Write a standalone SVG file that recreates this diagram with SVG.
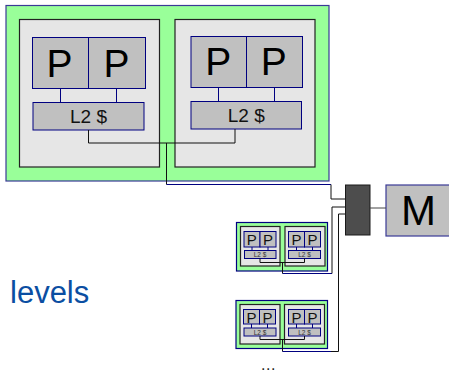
<svg xmlns="http://www.w3.org/2000/svg" width="449" height="374" viewBox="0 0 449 374">
<style>
.outer{fill:#99ff99;stroke:#3a3a96;stroke-width:1.2}
.core{fill:#e6e6e6;stroke:#222;stroke-width:1.2}
.box{fill:#c0c0c0;stroke:#000080;stroke-width:1}
.w{fill:none;stroke:#000080;stroke-width:1}
.k{fill:none;stroke:#111;stroke-width:1}
text{font-family:"Liberation Sans",Arial,sans-serif;fill:#000;text-anchor:middle}
.p{font-size:39px}.l{font-size:19px;fill:#111}.sp{font-size:15px;fill:#111}.sl{font-size:6.5px;fill:#333}
</style>
<g id="cluster-large">
<rect class="outer" x="6" y="5.500" width="323" height="175.500"/>
<rect class="core" x="19.500" y="19.500" width="140" height="147.500"/>
<rect class="core" x="175" y="19.500" width="140" height="147.500"/>
</g>
<g id="node-p1"><rect class="box" x="32.500" y="37.500" width="56" height="51"/><text class="p" x="59.500" y="76.500">P</text></g>
<g id="node-p2"><rect class="box" x="88.500" y="37.500" width="57" height="51"/><text class="p" x="116.500" y="76.500">P</text></g>
<g id="node-l2a"><rect class="box" x="33" y="102.500" width="111" height="27.500"/><text class="l" x="88.500" y="123">L2 $</text></g>
<g id="node-p3"><rect class="box" x="191" y="36.500" width="55.500" height="51"/><text class="p" x="218.200" y="75">P</text></g>
<g id="node-p4"><rect class="box" x="246.500" y="36.500" width="56" height="51"/><text class="p" x="273.800" y="75">P</text></g>
<g id="node-l2b"><rect class="box" x="191" y="101.500" width="110.500" height="27.500"/><text class="l" x="246.300" y="122">L2 $</text></g>

<g id="cluster-small-1">
<rect class="outer" x="236.500" y="222.500" width="91" height="48.500" style="stroke:#000080"/>
<rect class="core" x="240.500" y="226.500" width="39.500" height="39.500"/>
<rect class="core" x="285" y="226.500" width="40" height="39.500"/>
</g>
<g id="node-s1p1"><rect class="box" x="244" y="231.500" width="16" height="15.500"/><text class="sp" x="251.800" y="244.500">P</text></g>
<g id="node-s1p2"><rect class="box" x="260" y="231.500" width="16" height="15.500"/><text class="sp" x="268" y="244.500">P</text></g>
<g id="node-s1l1"><rect class="box" x="244.500" y="250.500" width="31.500" height="8"/><text class="sl" x="260" y="257">L2 $</text></g>
<g id="node-s1p3"><rect class="box" x="288.500" y="231.500" width="16" height="15.500"/><text class="sp" x="296.500" y="244.500">P</text></g>
<g id="node-s1p4"><rect class="box" x="304.500" y="231.500" width="16" height="15.500"/><text class="sp" x="312.500" y="244.500">P</text></g>
<g id="node-s1l2"><rect class="box" x="288.500" y="250.500" width="32" height="8"/><text class="sl" x="304.500" y="257">L2 $</text></g>

<g id="cluster-small-2">
<rect class="outer" x="236" y="300.500" width="91.500" height="48" style="stroke:#000080"/>
<rect class="core" x="240" y="304.500" width="40" height="39.500"/>
<rect class="core" x="284.500" y="304.500" width="40" height="39.500"/>
</g>
<g id="node-s2p1"><rect class="box" x="243.500" y="309.500" width="16" height="14.500"/><text class="sp" x="251.500" y="322.500">P</text></g>
<g id="node-s2p2"><rect class="box" x="259.500" y="309.500" width="16" height="14.500"/><text class="sp" x="267.500" y="322.500">P</text></g>
<g id="node-s2l1"><rect class="box" x="244" y="328" width="32" height="8"/><text class="sl" x="260" y="334.500">L2 $</text></g>
<g id="node-s2p3"><rect class="box" x="288.500" y="309.500" width="16" height="14.500"/><text class="sp" x="296.500" y="322.500">P</text></g>
<g id="node-s2p4"><rect class="box" x="304.500" y="309.500" width="16" height="14.500"/><text class="sp" x="312.500" y="322.500">P</text></g>
<g id="node-s2l2"><rect class="box" x="288.500" y="328" width="32" height="8"/><text class="sl" x="304.500" y="334.500">L2 $</text></g>

<g id="node-switch"><rect x="345.500" y="185" width="24.500" height="50" fill="#4d4d4d" stroke="#1a1a1a" stroke-width="1"/></g>
<g id="node-m"><rect x="386" y="185" width="64" height="51" fill="#c0c0c0" stroke="#3a3a96" stroke-width="1.200"/><text class="p" x="418.500" y="225" style="font-size:42px">M</text></g>

<g id="connectors">
<path class="w" d="M60.500 88.500V102.500M116.500 88.500V102.500M218.500 87.500V101.500M274.500 87.500V101.500"/>
<path class="k" d="M88.500 130V143H235V129"/>
<path class="k" d="M166.500 143V184.500"/>
<path class="w" d="M166.500 184.500H331"/>
<path class="k" d="M331 184.500V199H345"/>
<path class="w" d="M252 247V250.500M268 247V250.500M296.500 247V250.500M312.500 247V250.500"/>
<path class="k" d="M260 258.500V262.500H304.500V258.500"/>
<path class="k" d="M282.500 262.500V273.500"/>
<path class="w" d="M282.500 273.500H332"/>
<path class="k" d="M332 273.500V207H345"/>
<path class="w" d="M251.500 324V328M267.500 324V328M296.500 324V328M312.500 324V328"/>
<path class="k" d="M260 336V339.500H304.500V336"/>
<path class="k" d="M282.500 339.500V351.500"/>
<path class="w" d="M282.500 351.500H331"/>
<path class="k" d="M331 351.500H338.500V214H345"/>
<path d="M370 208H386" fill="none" stroke="#444" stroke-width="1"/>
</g>
<text x="10" y="302.500" style="font-size:31px;text-anchor:start;fill:#0b4ea2">levels</text>
<text x="261" y="370" style="font-size:16px;letter-spacing:0.5px;text-anchor:start;fill:#222">...</text>
</svg>
